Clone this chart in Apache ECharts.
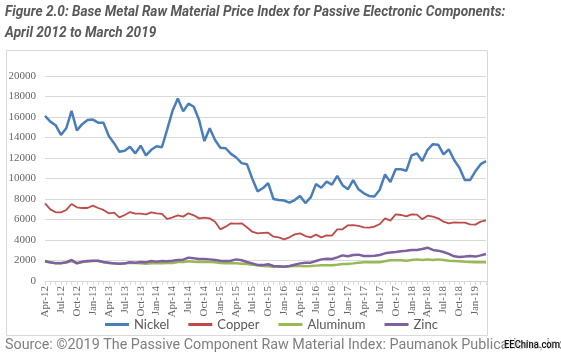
<!DOCTYPE html>
<html><head><meta charset="utf-8">
<script src="https://cdn.jsdelivr.net/npm/echarts@6/dist/echarts.min.js"></script>
<style>html,body{margin:0;padding:0;background:#fff}#c{width:561px;height:357px}</style>
</head><body><div id="c"></div>
<script>
const monthNames = ['Jan','Feb','Mar','Apr','May','Jun','Jul','Aug','Sep','Oct','Nov','Dec'];
const categories = [];
for (let k = 0; k < 84; k++) { const m = (3 + k) % 12; const y = 12 + Math.floor((3 + k) / 12); categories.push(monthNames[m] + '-' + y); }

const nickel = [16100,15550,15200,14250,14900,16600,14700,15300,15700,15750,
15450,15450,14150,13450,12600,12700,13100,12450,13200,12250,
12800,13150,13050,14800,16600,17800,16550,17300,17000,15700,
13650,14900,13750,13000,12950,12400,12050,11500,11400,10000,
8750,9050,9550,8000,7900,7850,7650,7900,8300,7600,
8150,9450,9100,9700,9400,10250,9350,8950,9850,8950,
8550,8300,8250,8900,10400,9650,10900,10900,10750,12250,
12450,11700,12800,13350,13300,12350,12850,11800,11050,9850,
9850,10700,11400,11700];
const copper = [7580,6990,6700,6700,6930,7510,7190,7120,7120,7350,
7120,6930,6600,6670,6210,6440,6730,6570,6570,6500,
6700,6600,6540,6050,6210,6410,6280,6600,6410,6110,
6180,6110,5790,5040,5300,5630,5600,5630,5240,4810,
4650,4700,4710,4320,4260,4070,4260,4550,4650,4390,
4260,4520,4260,4450,4420,5040,5040,5430,5460,5370,
5240,5200,5300,5560,6110,5890,6500,6440,6310,6500,
6470,6020,6370,6280,6110,5790,5630,5720,5690,5690,
5530,5500,5790,5920];
const aluminum = [1900,1800,1750,1750,1800,1950,1750,1850,1900,1950,
1950,1820,1760,1700,1680,1700,1780,1750,1720,1690,
1720,1720,1720,1750,1750,1850,1850,1920,1880,1850,
1850,1850,1820,1750,1720,1720,1720,1690,1660,1590,
1530,1460,1430,1400,1400,1400,1430,1460,1460,1430,
1460,1500,1530,1530,1530,1590,1660,1660,1720,1790,
1820,1820,1820,1820,1920,2020,2020,2020,1980,2050,
2110,2050,2110,2050,2110,2050,1980,1950,1920,1880,
1850,1820,1820,1820];
const zinc = [1950,1820,1720,1720,1820,2050,1720,1880,1950,1980,
1980,1850,1790,1720,1690,1720,1820,1790,1850,1820,
1950,1880,1950,1920,1980,2050,2080,2280,2210,2150,
2150,2110,2050,1980,1950,1980,2110,2020,1850,1720,
1560,1550,1630,1460,1430,1400,1460,1590,1720,1790,
1790,1950,2110,2180,2150,2310,2500,2410,2540,2570,
2440,2440,2470,2540,2700,2770,2830,2900,2960,3030,
3030,3120,3250,3030,2960,2830,2640,2410,2340,2380,
2440,2380,2500,2640];

const titleLine1 = 'Figure 2.0: Base Metal Raw Material Price Index for Passive Electronic Components:';
const titleLine2 = 'April 2012 to March 2019';
const sourceText = 'Source: \u00a92019 The Passive Component Raw Material Index: Paumanok Publications, Inc.';
const watermark = 'EEChina.com';

const chart = echarts.init(document.getElementById('c'), null, {renderer: 'canvas'});
const axisFont = {fontFamily: 'Liberation Serif', fontSize: 11, color: '#666666'};
function mk(name, data, color, width) {
  return {name, type: 'line', data, symbol: 'none', smooth: false,
    lineStyle: {color, width}, itemStyle: {color}, emphasis: {disabled: true}};
}
chart.setOption({
  backgroundColor: '#ffffff',
  animation: false,
  graphic: [
    {type: 'rect', shape: {x: 6.5, y: 50.5, width: 481, height: 285}, style: {fill: 'none', stroke: '#D9D9D9', lineWidth: 1}, z: -1},
    {type: 'text', x: 5, y: 5, scaleX: 0.96, style: {text: titleLine1, fontFamily: 'Roboto', fontStyle: 'italic', fontWeight: 'bold', fontSize: 14.2, fill: '#595959'}},
    {type: 'text', x: 5, y: 26, scaleX: 0.96, style: {text: titleLine2, fontFamily: 'Roboto', fontStyle: 'italic', fontWeight: 'bold', fontSize: 14.2, fill: '#595959'}},
    {type: 'text', x: 5, y: 338, style: {text: sourceText, fontFamily: 'Roboto', fontSize: 14.3, fill: '#7F7F7F'}},
    {type: 'text', x: 504, y: 339, scaleX: 0.82, z: 10, style: {text: watermark, fontFamily: 'Roboto', fontWeight: 500, fontSize: 11.5, fill: '#111111', backgroundColor: 'rgba(255,255,255,0.6)'}}
  ],
  legend: {
    left: 100, top: 313, itemWidth: 24, itemHeight: 3, itemGap: 19, icon: 'rect',
    textStyle: {fontFamily: 'Lato', fontSize: 13, color: '#595959'},
    data: ['Nickel', 'Copper', 'Aluminum', 'Zinc']
  },
  grid: {left: 45, right: 75, top: 76, bottom: 76, containLabel: false},
  xAxis: {
    type: 'category', data: categories, boundaryGap: false,
    axisLine: {lineStyle: {color: '#D9D9D9'}},
    axisTick: {show: true, interval: 0, length: 4, lineStyle: {color: '#D9D9D9'}},
    axisLabel: Object.assign({interval: 2, rotate: 90, margin: 5}, axisFont),
    splitLine: {show: false}
  },
  yAxis: {
    type: 'value', min: 0, max: 20000, interval: 2000,
    axisLine: {show: false}, axisTick: {show: false},
    axisLabel: Object.assign({margin: 9, formatter: v => String(v)}, axisFont),
    splitLine: {lineStyle: {color: '#D9D9D9'}}
  },
  series: [
    mk('Nickel', nickel, '#4A7EBB', 2.5),
    mk('Copper', copper, '#BE4B48', 1.8),
    mk('Aluminum', aluminum, '#98B954', 2.5),
    mk('Zinc', zinc, '#7D60A0', 2.5)
  ]
});
</script></body></html>
